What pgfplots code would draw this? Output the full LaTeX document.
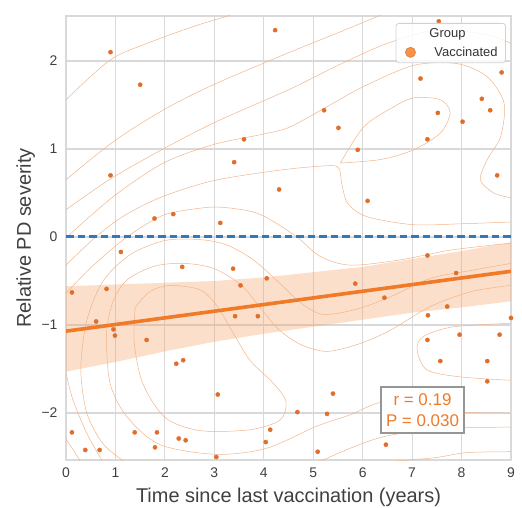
\documentclass[border=0pt]{standalone}
\usepackage{fontspec}
\setmainfont{Liberation Sans}
\usepackage{pgfplots}
\pgfplotsset{compat=1.18}
\definecolor{gridc}{RGB}{217,217,217}
\definecolor{txt}{RGB}{64,64,64}
\definecolor{dotc}{RGB}{224,110,42}
\definecolor{regc}{RGB}{240,122,40}
\definecolor{legc}{RGB}{242,128,48}
\definecolor{bandc}{RGB}{245,155,90}
\definecolor{contc}{RGB}{240,180,138}
\definecolor{zeroc}{RGB}{52,120,188}
\definecolor{boxc}{RGB}{150,150,150}
\definecolor{legbox}{RGB}{210,210,210}
\begin{document}
\begin{tikzpicture}
\path[use as bounding box] (-66bp,-48bp) rectangle (456bp,460bp);
\begin{axis}[
  at={(0,0)}, anchor=south west,
  scale only axis, width=445bp, height=444bp,
  xmin=0, xmax=9, ymin=-2.534, ymax=2.511,
  xtick={0,1,2,3,4,5,6,7,8,9}, xticklabels={0,1,2,3,4,5,6,7,8,9},
  ytick={-2,-1,0,1,2}, yticklabels={−2,−1,0,1,2},
  major tick length=0pt,
  grid=major,
  grid style={gridc, line width=1.2bp},
  axis line style={gridc, line width=1.2bp},
  tick label style={font=\fontsize{14}{16}\selectfont, text=txt},
  xticklabel style={yshift=-4bp},
  yticklabel style={xshift=-5bp},
  xlabel={Time since last vaccination (years)},
  ylabel={Relative PD severity},
  label style={font=\fontsize{20}{23}\selectfont, text=txt},
  xlabel style={at={(axis description cs:0.5,-0.0968)}, anchor=base},
  ylabel style={at={(axis description cs:-0.0787,0.5)}, anchor=base},
  legend cell align=left,
  legend style={at={(1,1)}, anchor=north east, xshift=-5bp, yshift=-7bp,
    draw=legbox, line width=0.8bp, rounded corners=3bp, fill=white, fill opacity=0.85, text opacity=1,
    font=\fontsize{13}{15}\selectfont, text=black!80, row sep=4bp, inner xsep=6bp, inner ysep=3bp,
    /tikz/every odd column/.append style={column sep=17bp}},
]
\addlegendimage{empty legend}
\addlegendentry{\hspace*{-5bp}Group}
\addlegendimage{only marks, mark=*, mark size=5bp, mark options={fill=legc, draw=legc}}
\addlegendentry{Vaccinated}

% confidence band
\addplot[draw=none, fill=bandc, fill opacity=0.32, forget plot] coordinates {
(0,-0.56) (1,-0.54) (2,-0.52) (3,-0.50) (4,-0.46) (5,-0.40) (6,-0.34) (7,-0.25) (8,-0.16) (9,-0.06)
(9,-0.73) (8,-0.80) (7,-0.86) (6,-0.94) (5,-1.02) (4,-1.10) (3,-1.19) (2,-1.30) (1,-1.42) (0,-1.53)} -- cycle;

% density contours
\pgfplotsset{cstyle/.style={contc, line width=0.5bp, smooth, forget plot}}
\addplot[cstyle] coordinates {(0,1.56)(0.89,2.01)(1.64,2.20)(2.57,2.39)(3.32,2.52)};
\addplot[cstyle] coordinates {(0,0.65)(0.95,1.08)(1.96,1.44)(2.98,1.73)(4.53,2.10)(5.5,2.32)(6.36,2.52)};
\addplot[cstyle] coordinates {(0,0.31)(0.9,0.66)(1.9,0.98)(3.0,1.30)(4.53,1.68)(5.5,1.95)(6.5,2.2)(7.5,2.35)(8.5,2.3)(9,2.2)};
\addplot[cstyle] coordinates {(0,-0.01)(0.96,0.46)(1.97,0.84)(2.98,1.05)(4.0,1.17)(4.53,1.25)(5.34,1.50)(6.02,1.71)(7.03,1.95)(7.91,1.97)(8.52,1.82)(8.86,1.52)(8.79,1.14)(8.52,0.88)(8.38,0.65)(8.65,0.50)(9.05,0.44)};
\addplot[cstyle] coordinates {(0,-0.32)(0.6,0.0)(1.2,0.25)(1.96,0.46)(2.98,0.64)(4.33,0.76)(5.3,0.81)(5.52,0.78)(5.58,0.6)(5.7,0.38)(6.09,0.23)(7.02,0.14)(8.0,0.15)(9.0,0.17)};
\addplot[cstyle] coordinates {(5.55,0.84)(6.02,1.25)(6.6,1.47)(7.03,1.58)(7.57,1.56)(7.77,1.41)(7.57,1.18)(7.03,0.99)(6.36,0.88)(5.55,0.84)};
\addplot[cstyle] coordinates {(0,-0.64)(0.5,-0.35)(1.16,-0.03)(1.79,0.20)(2.17,0.28)(2.98,0.34)(3.66,0.30)(4.06,0.22)(4.67,0.00)(5.14,-0.22)(5.75,-0.32)(6.76,-0.26)(7.77,-0.15)(8.99,-0.07)};
\addplot[cstyle] coordinates {(9,-0.30)(8.2,-0.38)(7.37,-0.47)(6.56,-0.68)(5.88,-0.82)(5.2,-0.88)(4.75,-0.75)(4.33,-0.53)(3.79,-0.26)(3.25,-0.09)(2.71,-0.03)(2.0,-0.04)(1.3,-0.2)(0.75,-0.5)(0.42,-0.95)(0.3,-1.5)(0.42,-2.0)(0.75,-2.35)(1.2,-2.56)};
\addplot[cstyle] coordinates {(9.0,-0.55)(8.2,-0.62)(7.37,-0.79)(6.56,-1.06)(5.95,-1.21)(5.28,-1.30)(4.74,-1.22)(4.3,-1.05)(3.95,-0.82)(3.55,-0.55)(3.0,-0.36)(2.4,-0.30)(1.80,-0.33)(1.25,-0.48)(0.96,-0.72)(0.82,-1.09)(0.89,-1.66)(1.23,-2.04)(1.90,-2.36)(3.05,-2.47)(4.06,-2.40)(5.07,-2.15)(5.75,-2.02)(6.36,-1.88)(7.0,-1.92)(8.0,-1.99)(9.0,-2.0)};
\addplot[cstyle] coordinates {(1.40,-0.80)(1.70,-0.62)(2.11,-0.55)(2.71,-0.60)(3.05,-0.78)(3.38,-1.09)(3.72,-1.40)(4.19,-1.66)(4.45,-1.87)(4.33,-2.08)(3.72,-2.19)(2.71,-2.20)(2.0,-2.05)(1.55,-1.66)(1.38,-1.20)(1.40,-0.80)};
\addplot[cstyle] coordinates {(9.05,-0.98)(7.84,-1.02)(7.23,-1.13)(7.10,-1.28)(7.30,-1.51)(7.98,-1.59)(9.05,-1.63)};
\addplot[cstyle] coordinates {(0,-1.55)(0.14,-1.85)(0.42,-2.23)(0.75,-2.56)};
\addplot[cstyle] coordinates {(0,-2.3)(0.15,-2.42)(0.3,-2.56)};
\addplot[cstyle] coordinates {(5.1,-2.56)(5.75,-2.40)(6.42,-2.27)(7.44,-2.18)(9.05,-2.16)};
\addplot[cstyle] coordinates {(6.3,-2.56)(7.43,-2.51)(8.1,-2.45)(9.05,-2.44)};

% regression line
\addplot[regc, line width=3.6bp, forget plot] coordinates {(0,-1.07) (9,-0.39)};
% zero line
\addplot[zeroc, line width=3bp, dash pattern=on 7.5bp off 4bp, forget plot] coordinates {(0,0) (9,0)};

% scatter
\addplot[only marks, mark=*, mark size=2.1bp, mark options={fill=dotc, draw=dotc}, forget plot] coordinates {
(0.90,2.10)(1.50,1.73)(0.90,0.70)(3.60,1.11)(3.40,0.85)(4.31,0.54)(1.79,0.21)(2.17,0.26)(3.12,0.16)(4.23,2.35)
(7.54,2.45)(7.17,1.80)(8.81,1.87)(8.41,1.57)(8.58,1.44)(8.02,1.31)(7.52,1.41)(7.31,1.11)(5.22,1.44)(5.51,1.24)(5.90,0.99)(8.72,0.70)(6.10,0.41)
(1.11,-0.17)(2.35,-0.34)(0.12,-0.63)(0.82,-0.59)(3.38,-0.36)(3.53,-0.55)(4.06,-0.47)(0.61,-0.96)(0.96,-1.05)(0.99,-1.12)(1.63,-1.17)(3.42,-0.90)(3.88,-0.90)(2.23,-1.44)(2.37,-1.40)(3.07,-1.79)(0.12,-2.22)(1.39,-2.22)(1.84,-2.22)(2.28,-2.29)(2.42,-2.31)(1.80,-2.39)(0.39,-2.42)(0.68,-2.42)(3.04,-2.50)(4.13,-2.19)(4.04,-2.33)
(7.31,-0.21)(7.89,-0.41)(5.85,-0.53)(6.44,-0.69)(7.71,-0.79)(7.32,-0.89)(9.0,-0.92)(7.31,-1.17)(7.96,-1.11)(8.77,-1.11)(7.57,-1.41)(8.52,-1.41)(8.52,-1.64)(5.40,-1.78)(4.68,-1.99)(5.28,-2.01)(6.47,-2.36)(5.09,-2.44)};

\node[draw=boxc, line width=1.8bp, fill=white, align=center, text=regc, font=\fontsize{17}{21.5}\selectfont, inner xsep=5bp, inner ysep=6bp] at (axis cs:7.21,-1.966) {r = 0.19\\P = 0.030};
\end{axis}
\end{tikzpicture}
\end{document}
